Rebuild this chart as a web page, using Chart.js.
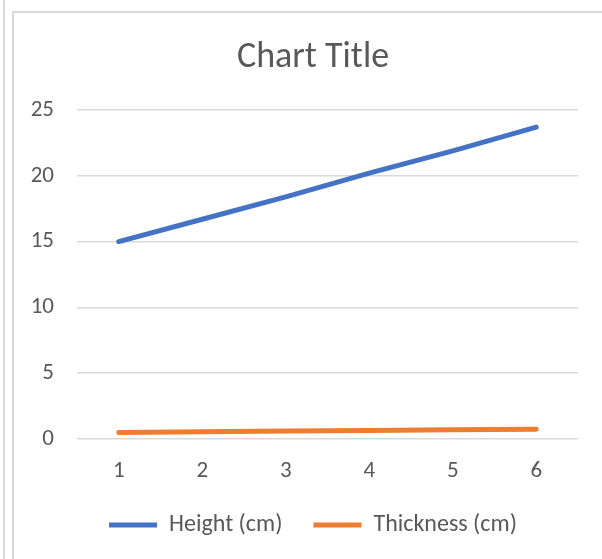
<!DOCTYPE html>
<html>
<head>
<meta charset="utf-8">
<script src="https://cdn.jsdelivr.net/npm/chart.js@4/dist/chart.umd.min.js"></script>
<style>
  html, body { margin: 0; padding: 0; background: #ffffff; }
  body { width: 602px; height: 559px; position: relative; overflow: hidden; }
  .edge { position: absolute; background: #d9d9d9; }
  #wrap { position: absolute; left: 0; top: 0; width: 602px; height: 559px; }
</style>
</head>
<body>
<div class="edge" style="left:3px;top:0;width:2px;height:559px;"></div>
<div class="edge" style="left:12px;top:11px;width:2px;height:548px;"></div>
<div class="edge" style="left:12px;top:11px;width:590px;height:2px;"></div>
<div id="wrap"><canvas id="chart" width="602" height="559"></canvas></div>
<script>
// Sample index along the x axis
const categories = ['1', '2', '3', '4', '5', '6'];
// Measured values per sample
const heightCm = [15.0, 16.7, 18.4, 20.2, 21.9, 23.7];
const thicknessCm = [0.5, 0.55, 0.6, 0.65, 0.7, 0.75];
// Value axis ticks
const yTicks = [0, 5, 10, 15, 20, 25];

const textColor = '#595959';
const gridColor = '#d9d9d9';
const font = "Calibri, Carlito, 'Open Sans', sans-serif";

new Chart(document.getElementById('chart'), {
  type: 'line',
  data: {
    labels: categories,
    datasets: [
      {
        label: 'Height (cm)',
        data: heightCm,
        borderColor: '#4472C4',
        backgroundColor: '#4472C4',
        borderWidth: 5,
        borderCapStyle: 'round',
        pointRadius: 0,
        pointStyle: 'line',
        tension: 0
      },
      {
        label: 'Thickness (cm)',
        data: thicknessCm,
        borderColor: '#ED7D31',
        backgroundColor: '#ED7D31',
        borderWidth: 5,
        borderCapStyle: 'round',
        pointRadius: 0,
        pointStyle: 'line',
        tension: 0
      }
    ]
  },
  options: {
    responsive: false,
    animation: false,
    layout: { padding: { left: 30, right: 6, top: 0, bottom: 12 } },
    plugins: {
      title: {
        display: true,
        text: 'Chart Title',
        color: textColor,
        font: { family: font, size: 36, weight: 'normal' },
        padding: { top: 36, bottom: 30.8 }
      },
      legend: {
        position: 'bottom',
        labels: {
          color: textColor,
          font: { family: font, size: 24 },
          usePointStyle: true,
          pointStyleWidth: 48,
          boxHeight: 5,
          padding: 31
        }
      },
      tooltip: { enabled: false }
    },
    scales: {
      x: {
        offset: true,
        grid: { display: false, drawTicks: false },
        border: { display: false },
        ticks: { color: textColor, font: { family: font, size: 23 }, padding: 18 },
        afterFit: (axis) => { axis.height = 43; }
      },
      y: {
        min: 0,
        max: 25,
        afterBuildTicks: (axis) => { axis.ticks = yTicks.map(v => ({ value: v })); },
        grid: { color: gridColor, lineWidth: 1.5, drawTicks: false },
        border: { display: false },
        ticks: { color: textColor, font: { family: font, size: 23 }, padding: 23 },
        afterFit: (axis) => { axis.width = 47; }
      },
      // empty margin on the right side of the plot area
      gutter: {
        type: 'linear',
        position: 'right',
        grid: { display: false, drawTicks: false },
        border: { display: false },
        ticks: { display: false },
        afterFit: (axis) => { axis.width = 18; }
      }
    }
  }
});
</script>
</body>
</html>
